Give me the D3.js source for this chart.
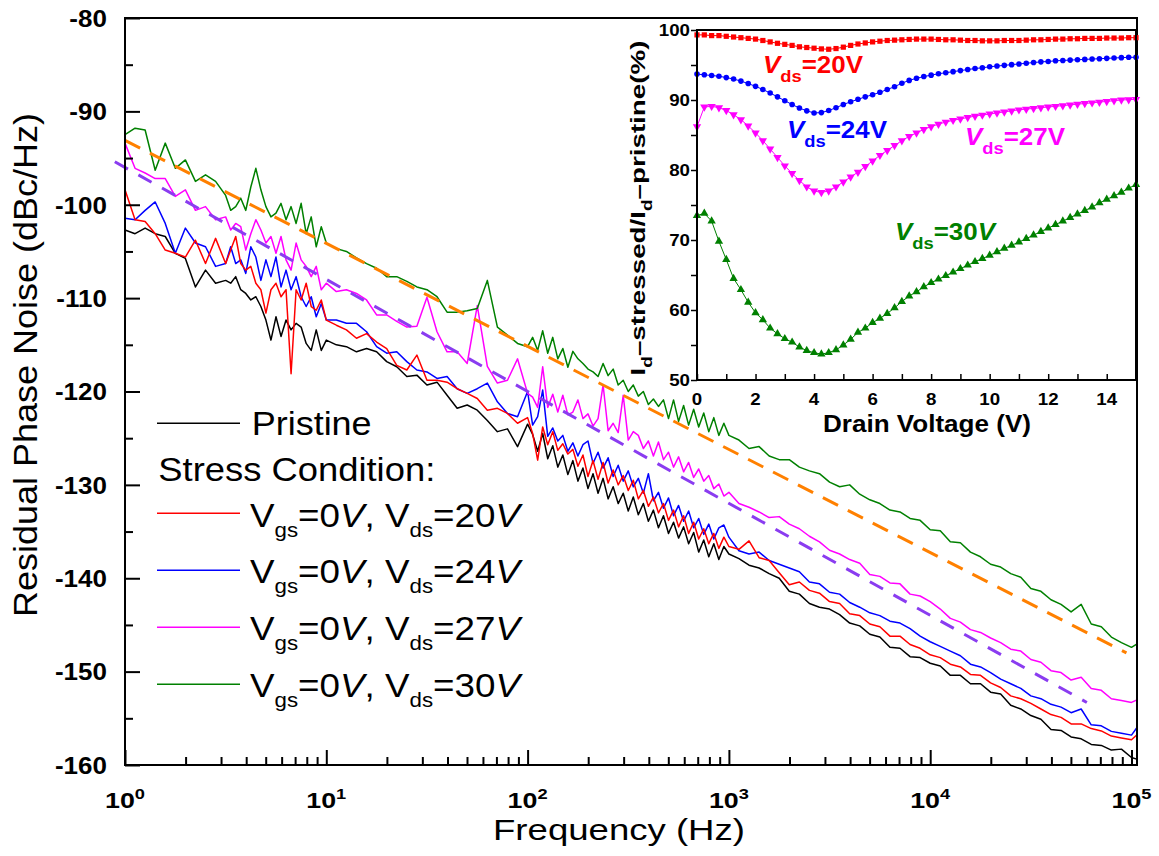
<!DOCTYPE html>
<html><head><meta charset="utf-8">
<script src="https://cdn.jsdelivr.net/npm/d3@7"></script>
<style>
body{margin:0;background:#fff}
svg{display:block}
text{font-family:"Liberation Sans",Arial,Helvetica,sans-serif}
</style>
</head><body>
<svg id="chart" width="1159" height="856"></svg>
<script>
// ---------- main plot data (x = log10 of frequency in Hz, y = dBc/Hz) ----------
const logFreq = [
 0,0.05,0.1,0.15,0.2,0.25,0.3,0.35,0.4,0.45,0.5,0.525,0.55,0.575,0.6,0.625,0.65,0.675,0.7,0.725,0.75,0.775,0.8,0.825,0.85,0.875,0.9,0.925,0.95,0.975,1,
 1.05,1.1,1.15,1.2,1.25,1.3,1.35,1.4,1.45,1.5,1.55,1.6,1.65,1.7,1.75,1.8,1.85,1.9,1.95,2,
 2.025,2.05,2.075,2.1,2.125,2.15,2.175,2.2,2.225,2.25,2.275,2.3,2.325,2.35,2.375,2.4,2.425,2.45,2.475,2.5,2.525,2.55,2.575,2.6,2.625,2.65,2.675,2.7,2.725,2.75,2.775,2.8,2.825,2.85,2.875,2.9,2.925,2.95,2.975,3,
 3.05,3.1,3.15,3.2,3.25,3.3,3.35,3.4,3.45,3.5,3.55,3.6,3.65,3.7,3.75,3.8,3.85,3.9,3.95,4,
 4.05,4.1,4.15,4.2,4.25,4.3,4.35,4.4,4.45,4.5,4.55,4.6,4.65,4.7,4.75,4.8,4.85,4.9,4.95,5,5.03
];
const pristine = [
 -102.7,-103.1,-102.5,-103.1,-103.4,-105.2,-105.75,-108.8,-107.0,-108.4,-108.1,-108.4,-107.7,-109.1,-109.5,-110.2,-109.85,-110.9,-112.35,-114.5,-112.0,-114.1,-112.35,-113.4,-112.7,-113.1,-114.85,-115.6,-113.4,-115.6,-114.5,
 -115.0,-115.2,-115.75,-115.4,-115.75,-116.8,-117.35,-118.4,-118.25,-119.3,-119.0,-120.4,-121.8,-121.45,-122.0,-123.1,-124.3,-124.0,-125.9,-123.5,
 -124.6,-126.4,-124.5,-127.2,-125.8,-128.1,-126.8,-128.9,-127.4,-129.6,-128.2,-130.4,-128.8,-130.9,-129.3,-131.5,-130.2,-132.0,-130.9,-132.8,-131.3,-133.2,-132.0,-133.9,-132.7,-134.6,-133.3,-135.2,-134.0,-135.7,-134.5,-136.3,-135.1,-137.2,-135.9,-137.7,-136.3,-138.0,-136.6,-137.4,
 -137.9,-138.6,-138.9,-139.5,-140.0,-141.4,-141.7,-142.7,-143.1,-143.3,-143.9,-144.8,-145.1,-146.0,-146.3,-147.4,-147.5,-148.4,-148.5,-149.1,
 -149.4,-150.4,-150.4,-151.3,-151.3,-152.2,-152.4,-153.6,-154.0,-154.7,-155.1,-156.2,-156.3,-157.0,-157.2,-157.8,-157.9,-158.4,-158.3,-159.2,-159.4
];
const vds20 = [
 -98.4,-101.6,-101.8,-103.1,-104.85,-105.2,-105.6,-103.8,-106.3,-103.6,-106.3,-104.85,-103.4,-106.3,-107.0,-106.6,-108.4,-109.1,-111.6,-109.1,-108.4,-109.85,-109.1,-118.1,-109.1,-110.2,-108.4,-110.9,-111.3,-110.2,-112.35,
 -112.9,-113.4,-114.3,-113.8,-114.7,-115.4,-117.2,-117.7,-116.1,-118.8,-118.8,-119.0,-119.7,-120.2,-120.75,-122.0,-121.8,-122.35,-123.4,-122.8,
 -124.5,-127.35,-123.8,-125.7,-124.3,-126.3,-125.6,-126.7,-126.2,-128.0,-126.8,-129.1,-127.4,-129.4,-127.6,-129.8,-128.4,-130.0,-129.0,-130.6,-129.5,-131.5,-130.6,-132.3,-131.3,-133.0,-132.0,-133.8,-132.7,-134.5,-133.3,-135.2,-134.0,-135.8,-134.7,-136.3,-135.2,-136.8,-135.6,-136.6,
 -136.9,-136.0,-137.8,-138.1,-139.4,-140.7,-140.4,-141.3,-141.6,-142.5,-142.7,-143.8,-144.0,-144.9,-145.2,-146.2,-146.2,-147.1,-147.5,-148.2,
 -148.5,-149.2,-149.5,-150.3,-150.4,-151.2,-151.7,-152.6,-152.9,-153.4,-154.0,-154.6,-154.9,-155.6,-155.6,-156.1,-156.35,-156.9,-157.1,-157.3,-156.7
];
const vds24 = [
 -101.45,-101.6,-100.6,-99.7,-102.0,-105.2,-102.5,-104.1,-104.5,-106.6,-106.3,-104.5,-106.3,-105.9,-107.35,-104.5,-105.6,-108.1,-105.9,-107.7,-105.6,-108.8,-107.0,-109.1,-107.7,-109.85,-110.9,-109.85,-112.0,-110.6,-112.35,
 -112.35,-112.7,-112.7,-113.6,-115.2,-115.9,-115.75,-116.8,-117.7,-117.9,-118.6,-118.4,-119.7,-120.2,-119.7,-119.1,-121.1,-122.35,-122.7,-120.0,
 -123.6,-122.7,-119.85,-124.8,-123.9,-125.3,-124.7,-126.4,-125.5,-126.9,-125.7,-125.3,-127.7,-126.5,-128.2,-127.1,-129.1,-127.9,-129.6,-128.5,-130.2,-129.3,-130.9,-128.8,-131.7,-130.8,-132.5,-131.4,-133.3,-132.2,-133.9,-132.8,-134.6,-133.6,-135.3,-134.2,-135.8,-134.6,-134.3,-135.6,
 -137.05,-137.4,-137.2,-138.1,-138.5,-138.9,-139.3,-140.4,-140.6,-141.5,-141.7,-142.6,-143.1,-143.7,-144.0,-144.6,-144.8,-145.4,-146.2,-146.8,
 -147.3,-147.8,-148.3,-149.2,-149.5,-150.1,-150.8,-151.3,-151.8,-152.6,-152.9,-153.5,-153.8,-154.4,-154.0,-155.7,-155.8,-156.4,-156.6,-156.8,-155.9
];
const vds27 = [
 -93.4,-96.1,-96.6,-97.2,-97.2,-99.1,-98.4,-100.6,-100.2,-101.6,-101.3,-102.7,-102.0,-102.35,-104.85,-103.1,-101.6,-102.7,-104.1,-103.4,-105.2,-103.4,-105.9,-107.0,-104.1,-105.9,-106.6,-107.7,-106.6,-109.1,-108.4,
 -109.3,-109.1,-109.5,-110.2,-111.8,-111.8,-112.5,-113.1,-113.0,-109.9,-113.6,-115.75,-115.75,-117.0,-110.8,-117.3,-119.1,-118.8,-116.5,-120.2,
 -120.6,-121.7,-117.35,-121.7,-120.3,-122.2,-120.4,-122.5,-122.2,-120.9,-122.9,-122.4,-123.7,-122.9,-119.3,-124.2,-123.4,-124.4,-120.4,-125.2,-124.3,-124.7,-126.1,-125.3,-126.9,-125.4,-127.3,-126.5,-128.1,-127.0,-128.6,-127.6,-129.2,-128.3,-129.6,-129.0,-130.4,-129.9,-131.2,-130.8,
 -132.0,-132.4,-132.9,-133.5,-133.4,-134.2,-134.7,-135.5,-136.1,-137.0,-137.4,-138.0,-138.4,-139.6,-139.8,-140.5,-140.6,-141.7,-141.9,-142.5,
 -143.3,-144.3,-144.7,-145.5,-145.8,-146.4,-146.9,-147.6,-147.8,-148.7,-149.0,-149.9,-150.1,-150.9,-150.6,-151.8,-152.0,-152.9,-153.1,-153.3,-153.0
];
const vds30 = [
 -92.5,-91.8,-92.0,-96.3,-93.4,-96.1,-95.2,-97.5,-96.8,-97.5,-99.0,-100.6,-100.2,-99.3,-100.6,-98.1,-96.1,-98.4,-100.2,-101.3,-100.9,-99.85,-101.6,-100.2,-102.0,-99.85,-103.1,-101.3,-104.5,-102.35,-104.1,
 -104.7,-105.0,-105.7,-106.3,-106.8,-107.7,-107.7,-108.2,-108.8,-109.1,-109.85,-111.5,-111.5,-111.35,-111.1,-108.1,-113.1,-113.95,-114.85,-115.2,
 -114.2,-115.6,-113.5,-115.9,-114.2,-116.5,-115.4,-117.4,-115.7,-116.5,-117.0,-117.6,-117.9,-118.4,-117.0,-118.3,-117.6,-119.3,-118.8,-120.0,-119.3,-120.5,-120.0,-121.4,-120.8,-121.6,-120.9,-122.9,-120.9,-123.2,-121.5,-123.6,-121.9,-123.8,-122.3,-124.3,-122.8,-124.7,-123.4,-124.7,
 -125.2,-126.1,-125.9,-126.9,-127.3,-127.3,-128.1,-128.5,-128.8,-129.7,-130.2,-130.0,-131.0,-131.6,-132.0,-132.7,-132.9,-133.6,-133.8,-134.8,
 -134.9,-136.1,-136.2,-137.2,-137.7,-138.5,-138.8,-139.5,-139.9,-141.1,-141.4,-142.3,-142.8,-143.6,-142.8,-144.9,-145.2,-146.3,-146.9,-147.4,-147.0
];
// dashed fit lines: [frequency Hz], [dBc/Hz]
const fitHighFreq = [1, 94400];
const fitHighVal  = [-93.1, -148.0];
const fitLowFreq  = [0.89, 60000];
const fitLowVal   = [-95.4, -153.3];

const xMajorTicks = [1, 10, 100, 1000, 10000, 100000];
const xMajorExp   = [0, 1, 2, 3, 4, 5];
const xMinorTicks = [2,3,4,5,6,7,8,9,20,30,40,50,60,70,80,90,200,300,400,500,600,700,800,900,
                     2000,3000,4000,5000,6000,7000,8000,9000,20000,30000,40000,50000,60000,70000,80000,90000];
const yMajorTicks = [-160,-150,-140,-130,-120,-110,-100,-90,-80];
const yMinorTicks = [-155,-145,-135,-125,-115,-105,-95,-85];

const seriesNames  = ['Pristine','Vds20','Vds24','Vds27','Vds30'];
const seriesColors = ['#000000','#ff0000','#0000ff','#ff00ff','#008000'];
const stressVds    = [20, 24, 27, 30];

// ---------- inset data (drain voltage V, ratio %) ----------
const drainV = [0,0.25,0.5,0.75,1,1.25,1.5,1.75,2,2.25,2.5,2.75,3,3.25,3.5,3.75,4,4.25,4.5,4.75,5,5.25,5.5,5.75,6,6.25,6.5,6.75,7,7.25,7.5,7.75,8,8.25,8.5,8.75,9,9.25,9.5,9.75,10,10.25,10.5,10.75,11,11.25,11.5,11.75,12,12.25,12.5,12.75,13,13.25,13.5,13.75,14,14.25,14.5,14.75,15];
const ratio20 = [99.3,99.3,99.2,99.2,99.1,99.0,98.9,98.8,98.7,98.5,98.3,98.1,97.95,97.8,97.6,97.5,97.4,97.3,97.25,97.35,97.55,97.8,98.0,98.15,98.3,98.4,98.5,98.55,98.6,98.65,98.7,98.7,98.7,98.65,98.6,98.6,98.55,98.5,98.5,98.45,98.45,98.45,98.5,98.5,98.5,98.55,98.6,98.6,98.65,98.7,98.7,98.75,98.75,98.8,98.8,98.8,98.85,98.85,98.85,98.9,98.9];
const ratio24 = [93.7,93.6,93.5,93.4,93.2,93.0,92.7,92.35,91.95,91.5,91.0,90.45,89.9,89.35,88.85,88.45,88.15,88.2,88.5,88.9,89.35,89.75,90.1,90.45,90.75,91.1,91.5,91.9,92.4,92.8,93.1,93.35,93.55,93.75,93.9,94.05,94.2,94.35,94.5,94.6,94.75,94.85,94.95,95.05,95.15,95.25,95.35,95.45,95.5,95.6,95.65,95.7,95.75,95.8,95.85,95.9,95.95,96.0,96.05,96.1,96.1];
const ratio27 = [86.2,89.0,89.1,88.9,88.5,87.9,87.2,86.3,85.3,84.2,83.0,81.8,80.6,79.5,78.5,77.6,77.0,76.8,77.0,77.6,78.3,79.0,79.7,80.5,81.3,82.1,82.8,83.5,84.2,84.8,85.3,85.8,86.2,86.55,86.85,87.1,87.3,87.5,87.7,87.85,88.0,88.15,88.3,88.45,88.6,88.7,88.8,88.9,89.0,89.1,89.2,89.3,89.4,89.5,89.6,89.7,89.8,89.9,90.0,90.05,90.1];
const ratio30 = [73.5,73.8,72.7,69.8,67.2,64.5,62.9,61.1,59.6,58.6,57.4,56.6,55.9,55.4,54.7,54.2,53.9,53.7,53.9,54.3,55.0,55.8,56.8,57.4,58.2,58.8,59.5,60.3,61.2,62.0,62.6,63.3,63.9,64.4,64.9,65.4,65.9,66.4,66.9,67.35,67.8,68.3,68.8,69.25,69.7,70.2,70.7,71.2,71.7,72.2,72.7,73.2,73.7,74.2,74.7,75.3,75.8,76.3,76.8,77.4,77.9];
const insetXTicks = [0,1,2,3,4,5,6,7,8,9,10,11,12,13,14,15];
const insetXLabels = [0,2,4,6,8,10,12,14];
const insetYTicks = [50,55,60,65,70,75,80,85,90,95,100];
const insetYLabels = [50,60,70,80,90,100];

// ---------- helpers ----------
const svg = d3.select('#chart');
function label(parent, o, parts){
  const t = parent.append('text')
    .attr('font-size', o.size).attr('font-weight', o.weight || 'normal')
    .attr('fill', o.fill || '#000').attr('text-anchor', o.anchor || 'start');
  let cur = 0;
  parts.forEach(p => {
    if (typeof p === 'string') p = {t: p};
    const s = t.append('tspan').text(p.t);
    let off = 0;
    if (p.sub){ s.attr('font-size', o.subSize || o.size*0.62); off = o.subDy || o.size*0.3; }
    if (p.sup){ s.attr('font-size', o.supSize || o.size*0.65); off = -(o.supDy || o.size*0.4); }
    if (off !== cur) s.attr('dy', off - cur);
    cur = off;
    if (p.it) s.attr('font-style', 'italic');
  });
  let sx = o.sx || 1;
  if (o.len) sx = o.len / t.node().getComputedTextLength();
  t.attr('transform', `translate(${o.x},${o.y}) rotate(${o.rot||0}) scale(${sx},${o.sy||1})`);
  return t;
}

// ---------- main scales ----------
const x = d3.scaleLog().domain([1, 1e5]).range([125, 1131.5]);
const y = d3.scaleLinear().domain([-160, -80]).range([765, 18]);
const L = 125, R = 1137, T = 18, B = 765;

// traces
const allSeries = [pristine, vds20, vds24, vds27, vds30];
const drawOrder = [0, 2, 1, 3, 4];
const line = d3.line().x(d => x(Math.pow(10, d[0]))).y(d => y(d[1]));
drawOrder.forEach(i => {
  const vals = allSeries[i];
  const pts = logFreq.map((f, j) => [f, vals[j]]).filter(d => d[1] !== undefined);
  svg.append('path').datum(pts).attr('d', line)
    .attr('fill', 'none').attr('stroke', seriesColors[i]).attr('stroke-width', 1.5)
    .attr('stroke-linejoin', 'round');
});

// fit lines
const fitLine = d3.line().x(d => x(d[0])).y(d => y(d[1]));
svg.append('path').datum(fitHighFreq.map((f,i)=>[f, fitHighVal[i]])).attr('d', fitLine)
  .attr('fill','none').attr('stroke','#ff8000').attr('stroke-width',3).attr('stroke-dasharray','17,11');
svg.append('path').datum(fitLowFreq.map((f,i)=>[f, fitLowVal[i]])).attr('d', fitLine)
  .attr('fill','none').attr('stroke','#8a3cf0').attr('stroke-width',3).attr('stroke-dasharray','15,12');

// axes (ticks inward)
const gxMaj = svg.append('g').attr('transform', `translate(0,${B})`)
  .call(d3.axisBottom(x).tickValues(xMajorTicks).tickSize(-15).tickSizeOuter(0).tickFormat(''));
const gxMin = svg.append('g').attr('transform', `translate(0,${B})`)
  .call(d3.axisBottom(x).tickValues(xMinorTicks).tickSize(-8).tickSizeOuter(0).tickFormat(''));
const gyMaj = svg.append('g').attr('transform', `translate(${L},0)`)
  .call(d3.axisLeft(y).tickValues(yMajorTicks).tickSize(-15).tickSizeOuter(0).tickPadding(16).tickFormat(d => String(d)));
const gyMin = svg.append('g').attr('transform', `translate(${L},0)`)
  .call(d3.axisLeft(y).tickValues(yMinorTicks).tickSize(-8).tickSizeOuter(0).tickFormat(''));
[gxMaj, gxMin, gyMaj, gyMin].forEach(g => {
  g.select('.domain').remove();
  g.selectAll('.tick line').attr('stroke', '#000').attr('stroke-width', 2);
});
gyMaj.selectAll('text').attr('font-size', 23).attr('font-weight', 'bold')
  .attr('font-family', '"Liberation Sans",Arial,sans-serif').attr('fill', '#000')
  .attr('dy', '0.36em').attr('transform', 'scale(1.13,1)');

// frame
svg.append('rect').attr('x', L).attr('y', T).attr('width', R - L).attr('height', B - T)
  .attr('fill', 'none').attr('stroke', '#000').attr('stroke-width', 2);

// x tick labels 10^n
xMajorTicks.forEach((f, i) => {
  label(svg, {x: x(f), y: 808, size: 22, weight: 'bold', anchor: 'middle', supSize: 15, supDy: 9, len: 40},
    ['10', {t: String(xMajorExp[i]), sup: true}]);
});

// axis titles
label(svg, {x: 619, y: 840, size: 30, anchor: 'middle', len: 252}, ['Frequency (Hz)']);
label(svg, {x: 37, y: 365, size: 30, anchor: 'middle', rot: -90, len: 504, sy: 1.1}, ['Residual Phase Noise (dBc/Hz)']);

// legend
svg.append('line').attr('x1', 157).attr('x2', 240).attr('y1', 423.3).attr('y2', 423.3)
  .attr('stroke', seriesColors[0]).attr('stroke-width', 1.6);
label(svg, {x: 251.7, y: 435, size: 32.5, len: 120}, ['Pristine']);
label(svg, {x: 158.3, y: 481, size: 32.5, len: 277}, ['Stress Condition:']);
stressVds.forEach((v, i) => {
  const ly = 513.3 + 57 * i;
  svg.append('line').attr('x1', 157).attr('x2', 240).attr('y1', ly).attr('y2', ly)
    .attr('stroke', seriesColors[i + 1]).attr('stroke-width', 1.6);
  label(svg, {x: 250, y: 526.7 + 56.7 * i, size: 33, subSize: 20, subDy: 10, len: 270},
    ['V', {t: 'gs', sub: true}, '=0', {t: 'V', it: true}, ', V', {t: 'ds', sub: true}, '=' + v, {t: 'V', it: true}]);
});

// ---------- inset ----------
const xi = d3.scaleLinear().domain([0, 15]).range([697, 1136]);
const yi = d3.scaleLinear().domain([50, 100]).range([380, 30]);
const ins = svg.append('g');
ins.append('rect').attr('x', 697).attr('y', 30).attr('width', 439).attr('height', 350).attr('fill', '#fff');

const insetSeries = [ratio20, ratio24, ratio27, ratio30];
const insetColors = ['#ff0000', '#0000ff', '#ff00ff', '#008000'];
const iline = d3.line().x(d => xi(d[0])).y(d => yi(d[1]));
insetSeries.forEach((vals, k) => {
  const pts = drainV.map((v, j) => [v, vals[j]]);
  ins.append('path').datum(pts).attr('d', iline).attr('fill', 'none')
    .attr('stroke', insetColors[k]).attr('stroke-width', 1);
  const g = ins.append('g').attr('fill', insetColors[k]);
  pts.forEach(p => {
    const cx = xi(p[0]), cy = yi(p[1]);
    if (k === 0) g.append('rect').attr('x', cx - 2.6).attr('y', cy - 2.6).attr('width', 5.2).attr('height', 5.2);
    else if (k === 1) g.append('circle').attr('cx', cx).attr('cy', cy).attr('r', 2.8);
    else if (k === 2) g.append('path').attr('d', d3.symbol(d3.symbolTriangle, 30)())
      .attr('transform', `translate(${cx},${cy}) rotate(180)`);
    else g.append('path').attr('d', d3.symbol(d3.symbolTriangle, 30)())
      .attr('transform', `translate(${cx},${cy})`);
  });
});

const gix = ins.append('g').attr('transform', 'translate(0,380)')
  .call(d3.axisBottom(xi).tickValues(insetXTicks).tickSize(-6).tickSizeOuter(0).tickFormat(''));
const giy = ins.append('g').attr('transform', 'translate(697,0)')
  .call(d3.axisLeft(yi).tickValues(insetYTicks).tickSize(6).tickSizeOuter(0).tickFormat(''));
[gix, giy].forEach(g => {
  g.select('.domain').remove();
  g.selectAll('.tick line').attr('stroke', '#000').attr('stroke-width', 1.5);
});
ins.append('rect').attr('x', 697).attr('y', 30).attr('width', 439).attr('height', 350)
  .attr('fill', 'none').attr('stroke', '#000').attr('stroke-width', 2);

insetXLabels.forEach(v => label(ins, {x: xi(v), y: 405, size: 17, weight: 'bold', anchor: 'middle', sx: 1.1}, [String(v)]));
insetYLabels.forEach(v => label(ins, {x: 690, y: yi(v) + 6, size: 17, weight: 'bold', anchor: 'end', sx: 1.1}, [String(v)]));
label(ins, {x: 927, y: 432, size: 23, weight: 'bold', anchor: 'middle', len: 208}, ['Drain Voltage (V)']);
label(ins, {x: 645, y: 208, size: 19, weight: 'bold', anchor: 'middle', rot: -90, len: 335, sy: 1.1, subSize: 13, subDy: 6},
  ['I', {t: 'd', sub: true}, '\u2013stressed/I', {t: 'd', sub: true}, '\u2013pristine(%)']);

// inset curve labels
const insetLabelPos = [[763, 73], [787, 138], [965, 145], [895, 240]];
stressVds.forEach((v, k) => {
  const parts = [{t: 'V', it: true}, {t: 'ds', sub: true}, '=' + v];
  if (k === 3) parts.push({t: 'V', it: true}); else parts[2] = '=' + v + 'V';
  label(ins, {x: insetLabelPos[k][0], y: insetLabelPos[k][1], size: 24, weight: 'bold',
    fill: insetColors[k], subSize: 17, subDy: 9, len: 100}, parts);
});
</script>
</body></html>
